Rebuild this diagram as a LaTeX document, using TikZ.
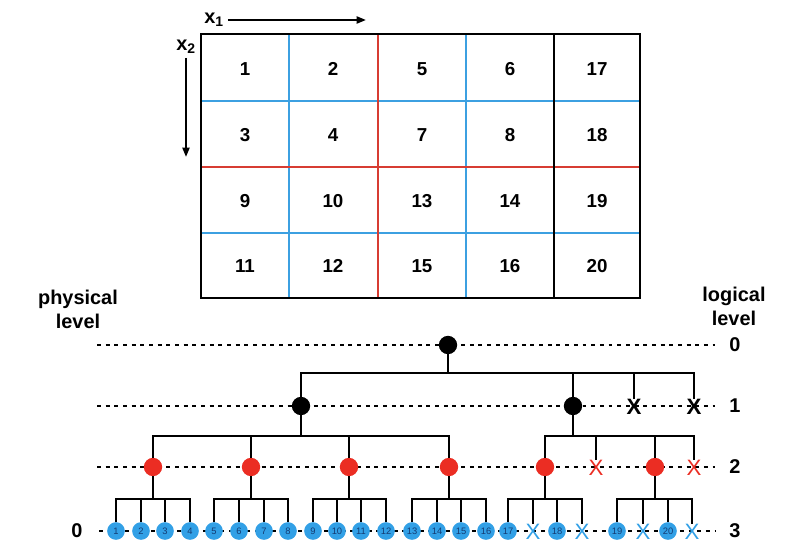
\documentclass[tikz,border=0pt]{standalone}
\usepackage{fontspec}
\setmainfont{Liberation Sans}
\usetikzlibrary{arrows.meta}

\definecolor{cellblue}{RGB}{60,160,225}
\definecolor{cellred}{RGB}{215,60,50}
\definecolor{leafblue}{RGB}{50,160,230}
\definecolor{leafnum}{RGB}{20,60,115}
\definecolor{nodered}{RGB}{235,45,35}

\tikzset{
  lvl/.style={line width=2.5pt, dash pattern=on 3.4pt off 4pt},
  tree/.style={line width=2pt},
  hub/.style={circle, fill=black, minimum size=0.55cm, inner sep=0pt},
  redhub/.style={circle, fill=nodered, minimum size=0.55cm, inner sep=0pt},
  leaf/.style={circle, fill=leafblue, text=leafnum, minimum size=0.53cm, inner sep=0pt, font=\fontsize{8}{9}\selectfont},
  gone/.style={inner sep=0pt, font=\fontsize{19}{20}\selectfont},
  lab/.style={font=\fontsize{17}{20.4}\selectfont\bfseries},
  cell/.style={font=\fontsize{16}{19}\selectfont\bfseries},
  axis/.style={-{Triangle[length=8pt,width=6pt]}, line width=1.7pt}
}

\begin{document}
\begin{tikzpicture}[x=0.03cm, y=-0.03cm]
    \useasboundingbox (0,0) rectangle (798,559);

    % Grid
    \draw[cellblue, line width=1.3pt] (201,101) -- (640,101) (201,233) -- (640,233)
        (289,34) -- (289,298) (466,34) -- (466,298);
    \draw[cellred, line width=1.3pt] (201,167) -- (640,167) (378,34) -- (378,298);
    \draw[line width=1.6pt] (554,34) -- (554,298);
    \draw[line width=1.6pt] (201,34) rectangle (640,298);
    \foreach \t/\x/\y in {1/245/69, 2/333/69, 5/422/69, 6/510/69, 17/597/69,
                          3/245/135, 4/333/135, 7/422/135, 8/510/135, 18/597/135,
                          9/245/201, 10/333/201, 13/422/201, 14/510/201, 19/597/201,
                          11/245/266, 12/333/266, 15/422/266, 16/510/266, 20/597/266}
        \node[cell] (c\t) at (\x,\y) {\t};

    % Axes
    \node[lab] (x1) at (214,20) {x\textsubscript{1}};
    \coordinate (x1end) at (366,20);
    \draw[axis] (x1.east) -- (x1end);
    \node[lab] (x2) at (186,47) {x\textsubscript{2}};
    \coordinate (x2end) at (186,157);
    \draw[axis] (x2.south) -- (x2.south |- x2end);

    % Labels
    \node[lab, align=center] (phys) at (78,309) {physical\\level};
    \node[lab, align=center] (logi) at (734,306) {logical\\level};
    \node[lab] (l0) at (735,345) {0};
    \node[lab] (l1) at (735,406) {1};
    \node[lab] (l2) at (735,467) {2};
    \node[lab] (l3) at (735,531) {3};
    \node[lab] (p0) at (77,531) {0};

    % Levels
    \draw[lvl] (97,345) -- (715,345);
    \draw[lvl] (97,406) -- (715,406);
    \draw[lvl] (97,467) -- (715,467);
    \draw[lvl] (99,531) -- (715,531);

    % Nodes
    \coordinate (bus0) at (0,373);
    \coordinate (bus1) at (0,436);
    \coordinate (bus2) at (0,499);
    \node[hub] (root) at (448,345) {};
    \node[hub] (a1) at (301,406) {};
    \node[hub] (a2) at (573,406) {};
    \node[gone, font=\fontsize{19}{20}\selectfont\bfseries] (ax1) at (634,407) {X};
    \node[gone, font=\fontsize{19}{20}\selectfont\bfseries] (ax2) at (694,407) {X};
    \foreach \n/\x in {b1/153, b2/251, b3/349, b4/449, b5/545, b6/655}
        \node[redhub] (\n) at (\x,467) {};
    \node[gone, text=nodered] (bx1) at (596,468) {X};
    \node[gone, text=nodered] (bx2) at (694,468) {X};
    \foreach \t/\x in {1/116, 2/141, 3/165, 4/190, 5/214, 6/239, 7/264, 8/288,
                       9/313, 10/337, 11/361, 12/386, 13/412, 14/437, 15/461, 16/486,
                       17/508, 18/557, 19/617, 20/668}
        \node[leaf] (n\t) at (\x,531) {\t};
    \foreach \n/\x in {y1/533, y2/582, y3/643, y4/692}
        \node[gone, text=leafblue] (\n) at (\x,532) {X};

    % Edges
    \foreach \k in {a1,a2,ax1,ax2}
        \draw[tree] (root) -- (root |- bus0) -| (\k);
    \foreach \k in {b1,b2,b3,b4}
        \draw[tree] (a1) -- (a1 |- bus1) -| (\k);
    \foreach \k in {b5,bx1,b6,bx2}
        \draw[tree] (a2) -- (a2 |- bus1) -| (\k);
    \foreach \p/\ka/\kb/\kc/\kd in {b1/n1/n2/n3/n4, b2/n5/n6/n7/n8, b3/n9/n10/n11/n12,
                                    b4/n13/n14/n15/n16, b5/n17/y1/n18/y2, b6/n19/y3/n20/y4}
        \foreach \k in {\ka,\kb,\kc,\kd}
            \draw[tree] (\p) -- (\p |- bus2) -| (\k);
\end{tikzpicture}
\end{document}
